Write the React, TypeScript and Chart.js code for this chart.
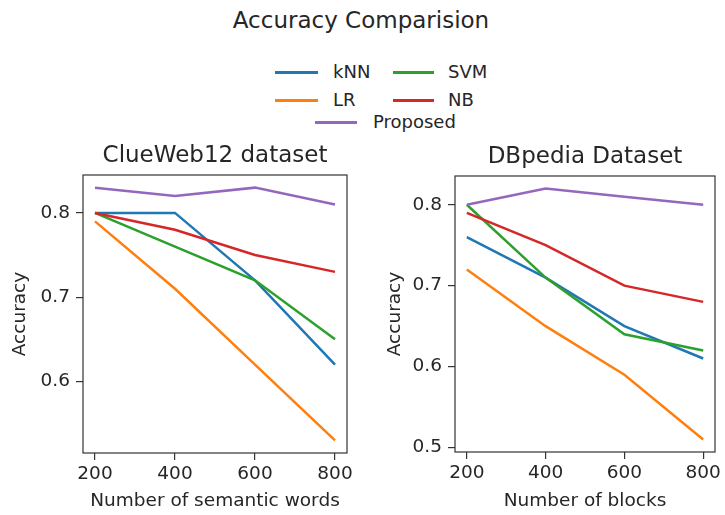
import React, { useEffect, useRef } from 'react';
import { Chart, registerables } from 'chart.js';

Chart.register(...registerables);

const xValues = [200, 400, 600, 800];

const seriesNames = ['kNN', 'LR', 'SVM', 'NB', 'Proposed'];
const seriesColors = ['#1f77b4', '#ff7f0e', '#2ca02c', '#d62728', '#9467bd'];

// ClueWeb12 dataset
const clueKnn = [0.8, 0.8, 0.72, 0.62];
const clueLr = [0.79, 0.71, 0.62, 0.53];
const clueSvm = [0.8, 0.76, 0.72, 0.65];
const clueNb = [0.8, 0.78, 0.75, 0.73];
const clueProposed = [0.83, 0.82, 0.83, 0.81];

// DBpedia dataset
const dbKnn = [0.76, 0.71, 0.65, 0.61];
const dbLr = [0.72, 0.65, 0.59, 0.51];
const dbSvm = [0.8, 0.71, 0.64, 0.62];
const dbNb = [0.79, 0.75, 0.7, 0.68];
const dbProposed = [0.8, 0.82, 0.81, 0.8];

const xTicks = [200, 400, 600, 800];
const clueYTicks = [0.6, 0.7, 0.8];
const dbYTicks = [0.5, 0.6, 0.7, 0.8];

const FONT = "'DejaVu Sans', sans-serif";
const TEXT = '#262626';
const SPINE = '#333333';

const framePlugin = {
  id: 'frame',
  afterDraw(chart: any) {
    const { ctx, chartArea: a } = chart;
    ctx.save();
    ctx.strokeStyle = SPINE;
    ctx.lineWidth = 1.2;
    ctx.strokeRect(a.left, a.top, a.right - a.left, a.bottom - a.top);
    ctx.restore();
  },
};

type PanelCfg = {
  title: string;
  xTitle: string;
  series: number[][];
  yTicks: number[];
  yMin: number;
  yMax: number;
  yWidth: number;
  xHeight: number;
  padRight: number;
  titlePadTop: number;
  yTitlePad: number;
  width: number;
  height: number;
};

function Panel({ cfg, left }: { cfg: PanelCfg; left: number }) {
  const ref = useRef<HTMLCanvasElement | null>(null);
  useEffect(() => {
    if (!ref.current) return;
    const n = cfg.series.length;
    const chart = new Chart(ref.current, {
      type: 'line',
      data: {
        datasets: cfg.series.map((vals, i) => ({
          label: seriesNames[i],
          data: vals.map((v, j) => ({ x: xValues[j], y: v })),
          borderColor: seriesColors[i],
          backgroundColor: seriesColors[i],
          borderWidth: 2.5,
          pointRadius: 0,
          tension: 0,
          fill: false,
          order: n - 1 - i,
        })),
      },
      options: {
        responsive: false,
        maintainAspectRatio: false,
        animation: false,
        devicePixelRatio: 1,
        layout: { padding: { left: 0, right: cfg.padRight, top: 0, bottom: 0 } },
        plugins: {
          legend: { display: false },
          tooltip: { enabled: false },
          title: {
            display: true,
            text: cfg.title,
            fullSize: false,
            color: TEXT,
            font: { family: FONT, size: 23, weight: 'normal', lineHeight: 1.2 },
            padding: { top: cfg.titlePadTop, bottom: 4.7 },
          },
        },
        scales: {
          x: {
            type: 'linear',
            min: 170,
            max: 830,
            afterBuildTicks: (s: any) => {
              s.ticks = xTicks.map((v) => ({ value: v }));
            },
            afterFit: (s: any) => {
              s.height = cfg.xHeight;
            },
            border: { display: false },
            grid: {
              drawOnChartArea: false,
              drawTicks: true,
              tickLength: 7,
              tickColor: SPINE,
              lineWidth: 1.2,
            },
            ticks: {
              color: TEXT,
              padding: 3,
              maxRotation: 0,
              autoSkip: false,
              font: { family: FONT, size: 18.5, lineHeight: 1.2 },
              callback: (v: any) => String(v),
            },
            title: {
              display: true,
              text: cfg.xTitle,
              color: TEXT,
              font: { family: FONT, size: 18.5, lineHeight: 1.2 },
              padding: { top: 0, bottom: 2.3 },
            },
          },
          y: {
            type: 'linear',
            min: cfg.yMin,
            max: cfg.yMax,
            afterBuildTicks: (s: any) => {
              s.ticks = cfg.yTicks.map((v) => ({ value: v }));
            },
            afterFit: (s: any) => {
              s.width = cfg.yWidth;
            },
            border: { display: false },
            grid: {
              drawOnChartArea: false,
              drawTicks: true,
              tickLength: 7,
              tickColor: SPINE,
              lineWidth: 1.2,
            },
            ticks: {
              color: TEXT,
              padding: 6,
              autoSkip: false,
              font: { family: FONT, size: 18.5, lineHeight: 1.2 },
              callback: (v: any) => Number(v).toFixed(1),
            },
            title: {
              display: true,
              text: 'Accuracy',
              color: TEXT,
              font: { family: FONT, size: 18.5, lineHeight: 1.2 },
              padding: { top: cfg.yTitlePad, bottom: 0 },
            },
          },
        },
      },
      plugins: [framePlugin],
    } as any);
    return () => chart.destroy();
  }, [cfg]);
  return (
    <canvas
      ref={ref}
      width={cfg.width}
      height={cfg.height}
      style={{ position: 'absolute', left, top: 130, width: cfg.width, height: cfg.height }}
    />
  );
}

const clueCfg: PanelCfg = {
  title: 'ClueWeb12 dataset',
  xTitle: 'Number of semantic words',
  series: [clueKnn, clueLr, clueSvm, clueNb, clueProposed],
  yTicks: clueYTicks,
  yMin: 0.515,
  yMax: 0.845,
  yWidth: 83,
  xHeight: 62,
  padRight: 13,
  titlePadTop: 12.7,
  yTitlePad: 8.9,
  width: 360,
  height: 385,
};

const dbCfg: PanelCfg = {
  title: 'DBpedia Dataset',
  xTitle: 'Number of blocks',
  series: [dbKnn, dbLr, dbSvm, dbNb, dbProposed],
  yTicks: dbYTicks,
  yMin: 0.4945,
  yMax: 0.8355,
  yWidth: 95,
  xHeight: 63,
  padRight: 10,
  titlePadTop: 13.7,
  yTitlePad: 23.9,
  width: 365,
  height: 385,
};

type LegendItem = { name: string; color: string; lineLeft: number; lineWidth: number; textLeft: number; y: number };

const legendItems: LegendItem[] = [
  { name: seriesNames[0], color: seriesColors[0], lineLeft: 275, lineWidth: 43, textLeft: 333, y: 72 },
  { name: seriesNames[2], color: seriesColors[2], lineLeft: 393, lineWidth: 41, textLeft: 448, y: 72 },
  { name: seriesNames[1], color: seriesColors[1], lineLeft: 275, lineWidth: 43, textLeft: 333, y: 100 },
  { name: seriesNames[3], color: seriesColors[3], lineLeft: 393, lineWidth: 41, textLeft: 448, y: 100 },
  { name: seriesNames[4], color: seriesColors[4], lineLeft: 315, lineWidth: 42, textLeft: 373, y: 122 },
];

export default function App() {
  return (
    <div
      style={{
        position: 'absolute',
        left: 0,
        top: 0,
        width: 725,
        height: 515,
        background: '#ffffff',
        overflow: 'hidden',
        fontFamily: FONT,
        color: TEXT,
      }}
    >
      <div
        style={{
          position: 'absolute',
          left: 0,
          width: 722,
          top: 20 - 14,
          height: 28,
          lineHeight: '28px',
          fontSize: 23,
          textAlign: 'center',
          whiteSpace: 'nowrap',
        }}
      >
        Accuracy Comparision
      </div>
      {legendItems.map((it) => (
        <React.Fragment key={it.name}>
          <div
            style={{
              position: 'absolute',
              left: it.lineLeft,
              top: it.y - 1.5,
              width: it.lineWidth,
              height: 3,
              background: it.color,
            }}
          />
          <div
            style={{
              position: 'absolute',
              left: it.textLeft,
              top: it.y - 11,
              height: 22,
              lineHeight: '22px',
              fontSize: 18,
              whiteSpace: 'nowrap',
            }}
          >
            {it.name}
          </div>
        </React.Fragment>
      ))}
      <Panel cfg={clueCfg} left={0} />
      <Panel cfg={dbCfg} left={360} />
    </div>
  );
}
